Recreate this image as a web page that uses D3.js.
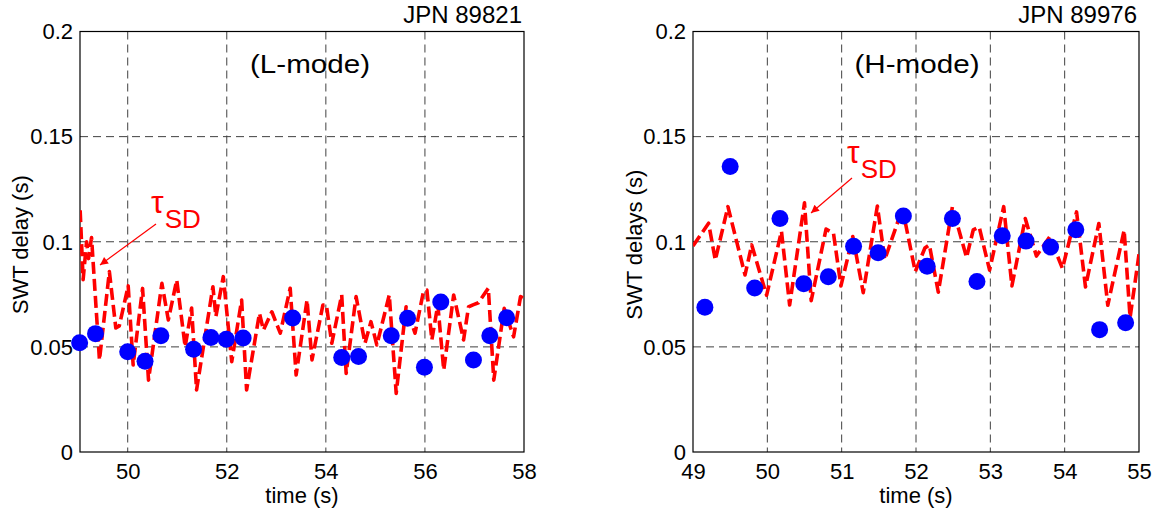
<!DOCTYPE html>
<html>
<head>
<meta charset="utf-8">
<script src="https://cdn.jsdelivr.net/npm/d3@7"></script>
<style>
  html, body { margin: 0; padding: 0; background: #fff; }
  svg { display: block; font-family: "Liberation Sans", Arial, sans-serif; }
</style>
</head>
<body>
<svg id="chart" width="1157" height="516"></svg>
<script>
// ---------------- DATA ----------------
// Left panel: JPN 89821 (L-mode)
const leftDotTime  = [49.03, 49.35, 50.0, 50.35, 50.67, 51.33, 51.68, 51.99, 52.33, 53.33, 54.32, 54.66, 55.32, 55.65, 55.99, 56.32, 56.98, 57.31, 57.65];
const leftDotDelay = [0.052, 0.0563, 0.0477, 0.0432, 0.0553, 0.0489, 0.0545, 0.0536, 0.0542, 0.0637, 0.0449, 0.0454, 0.0553, 0.0636, 0.0403, 0.0713, 0.0438, 0.0553, 0.0639];
const leftTauTime  = [49.04, 49.10, 49.17, 49.21, 49.27, 49.43, 49.63, 49.76, 49.83, 50.01, 50.11, 50.30, 50.42, 50.69, 50.82, 50.99, 51.16, 51.29, 51.39, 51.72, 51.78, 51.93, 52.10, 52.30, 52.40, 52.66, 52.74, 52.91, 53.08, 53.28, 53.40, 53.62, 53.72, 53.94, 54.01, 54.12, 54.32, 54.41, 54.61, 54.79, 54.91, 55.03, 55.28, 55.42, 55.62, 55.80, 55.97, 56.04, 56.14, 56.26, 56.38, 56.58, 56.78, 56.88, 56.97, 57.08, 57.28, 57.39, 57.60, 57.79, 57.93, 58.00];
const leftTauDelay = [0.115, 0.082, 0.100, 0.092, 0.102, 0.0437, 0.0858, 0.0590, 0.0600, 0.079, 0.0414, 0.0778, 0.0342, 0.0802, 0.0628, 0.0818, 0.050, 0.0685, 0.0295, 0.0786, 0.0644, 0.0834, 0.043, 0.0723, 0.0295, 0.066, 0.058, 0.0667, 0.0565, 0.0779, 0.0366, 0.0723, 0.0438, 0.0699, 0.070, 0.0517, 0.0747, 0.0374, 0.0739, 0.0517, 0.062, 0.0509, 0.0747, 0.0279, 0.0691, 0.0565, 0.0763, 0.077, 0.0533, 0.070, 0.039, 0.0747, 0.0533, 0.069, 0.070, 0.071, 0.0779, 0.0342, 0.0683, 0.0548, 0.0739, 0.073];
const leftXTicks = [50, 52, 54, 56, 58];

// Right panel: JPN 89976 (H-mode)
const rightDotTime  = [49.16, 49.50, 49.83, 50.17, 50.49, 50.82, 51.16, 51.49, 51.83, 52.15, 52.49, 52.82, 53.16, 53.48, 53.81, 54.15, 54.47, 54.82];
const rightDotDelay = [0.0689, 0.1358, 0.078, 0.1111, 0.080, 0.0834, 0.0979, 0.0948, 0.1122, 0.0884, 0.1111, 0.0811, 0.1029, 0.1003, 0.0975, 0.1057, 0.0582, 0.0615];
const rightTauTime  = [49.00, 49.21, 49.30, 49.47, 49.70, 49.79, 49.99, 50.19, 50.30, 50.50, 50.59, 50.79, 50.89, 50.99, 51.15, 51.29, 51.48, 51.58, 51.77, 51.84, 51.99, 52.12, 52.18, 52.30, 52.49, 52.68, 52.77, 52.85, 52.99, 53.18, 53.29, 53.47, 53.62, 53.80, 53.97, 54.16, 54.28, 54.46, 54.58, 54.80, 54.88, 55.00];
const rightTauDelay = [0.098, 0.1088, 0.0913, 0.1167, 0.0842, 0.0985, 0.0745, 0.105, 0.0699, 0.1185, 0.072, 0.106, 0.104, 0.079, 0.1025, 0.0758, 0.117, 0.0915, 0.111, 0.112, 0.0858, 0.097, 0.0985, 0.076, 0.1167, 0.0925, 0.1056, 0.107, 0.0865, 0.1167, 0.079, 0.111, 0.0932, 0.1024, 0.0873, 0.1142, 0.0785, 0.1087, 0.0698, 0.1055, 0.064, 0.094];
const rightXTicks = [49, 50, 51, 52, 53, 54, 55];

const yTicks = [0, 0.05, 0.1, 0.15, 0.2];
const yTickLabels = ["0", "0.05", "0.1", "0.15", "0.2"];

// ---------------- DRAW ----------------
const svg = d3.select("#chart");
svg.append("rect").attr("width", 1157).attr("height", 516).attr("fill", "#fff");

const defs = svg.append("defs");
defs.append("marker")
  .attr("id", "arrowhead").attr("viewBox", "0 0 10 10")
  .attr("refX", 10).attr("refY", 5)
  .attr("markerWidth", 11).attr("markerHeight", 8)
  .attr("markerUnits", "userSpaceOnUse")
  .attr("orient", "auto")
  .append("path").attr("d", "M0,0 L10,5 L0,10 Z").attr("fill", "#ff0000");

function panel(cfg) {
  const x = d3.scaleLinear().domain(cfg.xDomain).range([cfg.x0, cfg.x1]);
  const y = d3.scaleLinear().domain([0, 0.2]).range([cfg.y1, cfg.y0]);
  const g = svg.append("g");

  defs.append("clipPath").attr("id", cfg.id + "clip")
    .append("rect").attr("x", cfg.x0).attr("y", cfg.y0)
    .attr("width", cfg.x1 - cfg.x0).attr("height", cfg.y1 - cfg.y0);

  // grid
  g.append("g").selectAll("line").data(cfg.xTicks.filter(t => t > cfg.xDomain[0] + 0.01 && t < cfg.xDomain[1] - 0.01))
    .join("line")
    .attr("x1", d => x(d)).attr("x2", d => x(d))
    .attr("y1", cfg.y0).attr("y2", cfg.y1)
    .attr("stroke", "#404040").attr("stroke-width", 1).attr("stroke-dasharray", "8,5");
  g.append("g").selectAll("line").data(yTicks.filter(t => t > 0 && t < 0.2))
    .join("line")
    .attr("x1", cfg.x0).attr("x2", cfg.x1)
    .attr("y1", d => y(d)).attr("y2", d => y(d))
    .attr("stroke", "#404040").attr("stroke-width", 1).attr("stroke-dasharray", "8,5");

  // axes (labels only, MATLAB style)
  const xAxis = d3.axisBottom(x).tickValues(cfg.xTicks).tickSize(0).tickFormat(d3.format("d"));
  const gx = g.append("g").attr("transform", `translate(0,${cfg.y1})`).call(xAxis);
  gx.select(".domain").remove();
  gx.selectAll("text").attr("y", 27).attr("dy", 0)
    .attr("font-size", 22).attr("fill", "#000")
    .attr("font-family", "Liberation Sans, Arial, sans-serif");

  const yAxis = d3.axisLeft(y).tickValues(yTicks).tickSize(0)
    .tickFormat((d, i) => yTickLabels[i]);
  const gy = g.append("g").attr("transform", `translate(${cfg.x0},0)`).call(yAxis);
  gy.select(".domain").remove();
  gy.selectAll("text").attr("x", -7).attr("dy", "0.33em")
    .attr("font-size", 22).attr("fill", "#000")
    .attr("font-family", "Liberation Sans, Arial, sans-serif");

  // frame
  g.append("rect").attr("x", cfg.x0).attr("y", cfg.y0)
    .attr("width", cfg.x1 - cfg.x0).attr("height", cfg.y1 - cfg.y0)
    .attr("fill", "none").attr("stroke", "#000").attr("stroke-width", 1.2);

  // tau_SD dashed curve
  const tau = cfg.tauTime.map((t, i) => [t, cfg.tauDelay[i]]);
  const line = d3.line().x(d => x(d[0])).y(d => y(d[1]));
  g.append("path").datum(tau)
    .attr("clip-path", `url(#${cfg.id}clip)`)
    .attr("d", line)
    .attr("fill", "none").attr("stroke", "#ff0000").attr("stroke-width", 3.6)
    .attr("stroke-dasharray", "12,5").attr("stroke-linejoin", "round");

  // SWT dots
  const dots = cfg.dotTime.map((t, i) => [t, cfg.dotDelay[i]]);
  g.append("g").selectAll("circle").data(dots).join("circle")
    .attr("cx", d => x(d[0])).attr("cy", d => y(d[1])).attr("r", 8.5)
    .attr("fill", "#0000ff");

  // title
  g.append("text").attr("x", cfg.x1 - 2).attr("y", 23).attr("text-anchor", "end")
    .attr("font-size", 24).attr("fill", "#000").text(cfg.title);

  // mode label
  g.append("text").attr("x", cfg.modeX).attr("y", 73).attr("text-anchor", "middle")
    .attr("font-size", 26).attr("fill", "#000")
    .attr("textLength", cfg.modeW).attr("lengthAdjust", "spacingAndGlyphs")
    .text(cfg.mode);

  // x label
  g.append("text").attr("x", (cfg.x0 + cfg.x1) / 2).attr("y", 503).attr("text-anchor", "middle")
    .attr("font-size", 22).attr("fill", "#000").text("time (s)");

  // y label
  g.append("text")
    .attr("transform", `translate(${cfg.yLabelX},${(cfg.y0 + cfg.y1) / 2 + 3}) rotate(-90)`)
    .attr("text-anchor", "middle").attr("font-size", 22).attr("fill", "#000")
    .text(cfg.yLabel);

  // tau_SD annotation
  const ann = g.append("text").attr("x", cfg.tauX).attr("y", cfg.tauY).attr("fill", "#ff0000");
  ann.append("tspan").attr("font-size", 32).text("\u03C4");
  ann.append("tspan").attr("font-size", 26).attr("dy", 15).attr("dx", 1).text("SD");

  g.append("line")
    .attr("x1", cfg.arrow[0]).attr("y1", cfg.arrow[1])
    .attr("x2", cfg.arrow[2]).attr("y2", cfg.arrow[3])
    .attr("stroke", "#ff0000").attr("stroke-width", 1.2)
    .attr("marker-end", "url(#arrowhead)");
}

panel({
  id: "L", x0: 80, x1: 524, y0: 31.5, y1: 452,
  xDomain: [49.037, 58], xTicks: leftXTicks,
  dotTime: leftDotTime, dotDelay: leftDotDelay,
  tauTime: leftTauTime, tauDelay: leftTauDelay,
  title: "JPN 89821", mode: "(L-mode)", modeX: 310, modeW: 120,
  yLabel: "SWT delay (s)", yLabelX: 28,
  tauX: 151, tauY: 213, arrow: [156, 224, 100, 265]
});

panel({
  id: "R", x0: 693, x1: 1139, y0: 31.5, y1: 452,
  xDomain: [49, 55], xTicks: rightXTicks,
  dotTime: rightDotTime, dotDelay: rightDotDelay,
  tauTime: rightTauTime, tauDelay: rightTauDelay,
  title: "JPN 89976", mode: "(H-mode)", modeX: 917, modeW: 125,
  yLabel: "SWT delays (s)", yLabelX: 642,
  tauX: 847, tauY: 163, arrow: [852, 178, 811, 213]
});
</script>
</body>
</html>
